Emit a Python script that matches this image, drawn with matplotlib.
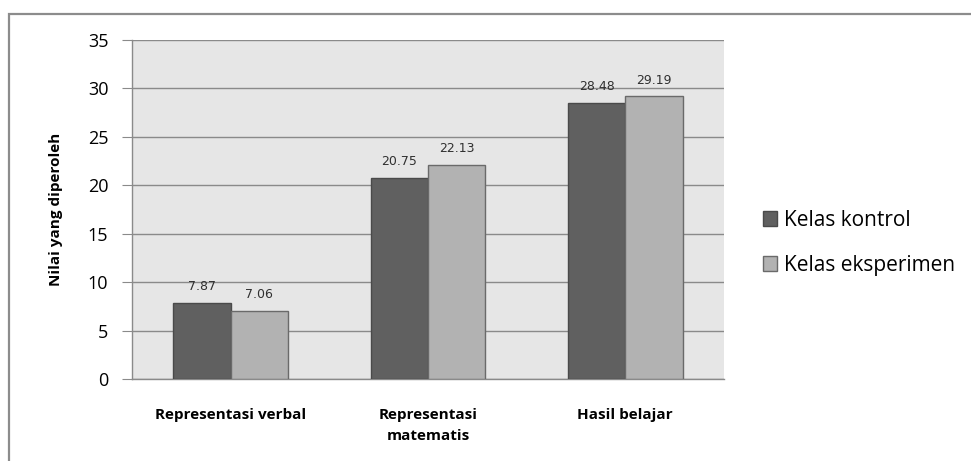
import numpy as np
import matplotlib
matplotlib.use("Agg")
import matplotlib.pyplot as plt
from matplotlib.patches import Rectangle

# Data
categories = ["Representasi verbal", "Representasi\nmatematis", "Hasil belajar"]
kontrol = [7.87, 20.75, 28.48]
eksperimen = [7.06, 22.13, 29.19]
series_names = ["Kelas kontrol", "Kelas eksperimen"]
y_ticks = [0, 5, 10, 15, 20, 25, 30, 35]

plt.rcParams['font.family'] = ['Open Sans', 'DejaVu Sans']

fig = plt.figure(figsize=(9.71, 4.61), dpi=100)
ax = fig.add_axes([0.1359, 0.1779, 0.6097, 0.7353])

# outer chart frame (only the left and top edges are inside the image)
fig.patches.append(Rectangle((9 / 971, -0.1), 1.2, 1.1 - 14 / 461,
                             transform=fig.transFigure, fill=False,
                             edgecolor="#8c8c8c", linewidth=1.6))

x = np.arange(len(categories))
w = 0.29
b1 = ax.bar(x - w / 2, kontrol, w, color="#606060", edgecolor="#4a4a4a",
            linewidth=1, label=series_names[0], zorder=3)
b2 = ax.bar(x + w / 2, eksperimen, w, color="#b2b2b2", edgecolor="#6a6a6a",
            linewidth=1, label=series_names[1], zorder=3)

for bars, vals in ((b1, kontrol), (b2, eksperimen)):
    for rect, v in zip(bars, vals):
        ax.annotate(f"{v:.2f}", (rect.get_x() + rect.get_width() / 2, v),
                    xytext=(0, 7), textcoords="offset points",
                    ha="center", va="bottom", fontsize=9,
                    family="DejaVu Sans", color="#303030")

ax.set_facecolor("#e6e6e6")
ax.set_xlim(-0.5, 2.5)
ax.set_ylim(0, 35)
ax.set_yticks(y_ticks)
ax.set_yticklabels([str(t) for t in y_ticks], fontsize=13)
ax.yaxis.grid(True, color="#8a8a8a", linewidth=1)
ax.set_axisbelow(True)
ax.tick_params(axis="y", length=7, color="#8a8a8a", pad=10)
ax.tick_params(axis="x", length=0, pad=21)
ax.set_xticks(x)
ax.set_xticklabels(categories, fontsize=11, fontweight="bold", linespacing=1.6)
ax.set_ylabel("Nilai yang diperoleh", fontsize=11, fontweight="bold", labelpad=18)

for side in ("top", "right"):
    ax.spines[side].set_visible(False)
for side in ("left", "bottom"):
    ax.spines[side].set_color("#8a8a8a")
    ax.spines[side].set_linewidth(1)

leg = fig.legend(loc="center left", bbox_to_anchor=(0.766, 0.473),
                 frameon=False, fontsize=15, handlelength=0.7,
                 handleheight=0.7, handletextpad=0.35, labelspacing=1.15)

fig.savefig("out.png", dpi=100)
